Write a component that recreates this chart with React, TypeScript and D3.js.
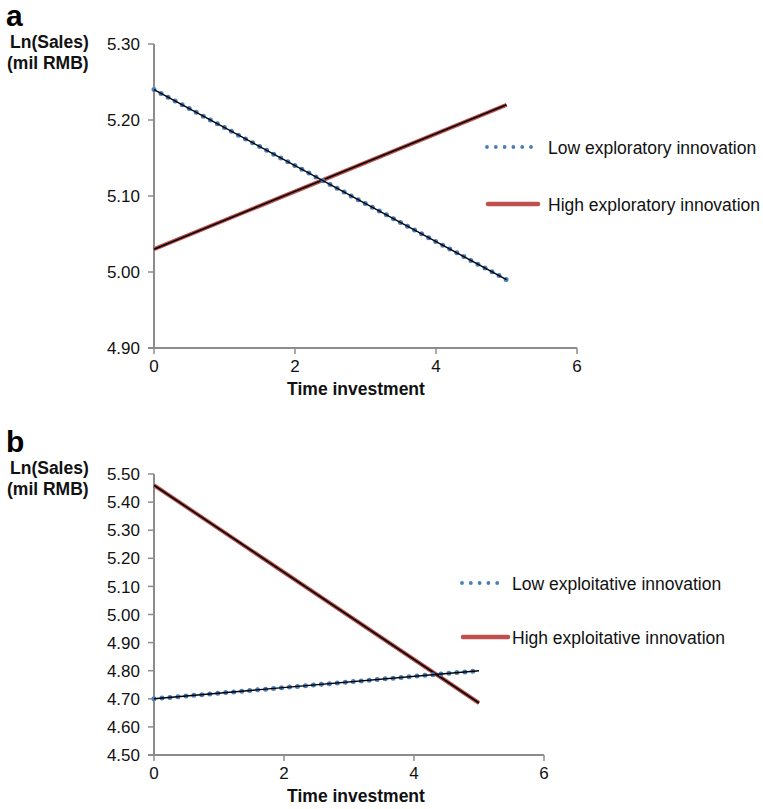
import React, { useEffect, useRef } from 'react';
import * as d3 from 'd3';

// Data
const timePoints = [0, 5];
const xTicks = [0, 2, 4, 6];

const lowExploratory = [5.24, 4.99];
const highExploratory = [5.03, 5.22];
const yTicksA = [4.9, 5.0, 5.1, 5.2, 5.3];

const lowExploitative = [4.7, 4.8];
const highExploitative = [5.46, 4.685];
const yTicksB = [4.5, 4.6, 4.7, 4.8, 4.9, 5.0, 5.1, 5.2, 5.3, 5.4, 5.5];

const legendA = ['Low exploratory innovation', 'High exploratory innovation'];
const legendB = ['Low exploitative innovation', 'High exploitative innovation'];

const FONT = '"Liberation Sans", Arial, Helvetica, sans-serif';
const AXIS = '#8c8c8c';
const BLUE = '#4a7ebb';
const RED = '#c0504d';

type Panel = {
  letter: string;
  top: number;
  x0: number; x1: number;
  yTop: number; yBottom: number;
  yDomain: [number, number];
  yTicks: number[];
  low: number[];
  high: number[];
  legend: string[];
  legendX: number; legendW: number; textX: number; legendY: [number, number];
};

const panels: Panel[] = [
  {
    letter: 'a', top: 0, x0: 154, x1: 577, yTop: 44, yBottom: 348,
    yDomain: [4.9, 5.3], yTicks: yTicksA, low: lowExploratory, high: highExploratory,
    legend: legendA, legendX: 487, legendW: 51, textX: 548, legendY: [147, 204],
  },
  {
    letter: 'b', top: 426, x0: 154, x1: 544, yTop: 474, yBottom: 755,
    yDomain: [4.5, 5.5], yTicks: yTicksB, low: lowExploitative, high: highExploitative,
    legend: legendB, legendX: 462, legendW: 46, textX: 512, legendY: [583, 637],
  },
];

function txt(g: d3.Selection<SVGGElement, unknown, null, undefined>, size: number, bold = false) {
  return g.append('text')
    .attr('font-family', FONT)
    .attr('font-size', size)
    .attr('font-weight', bold ? 'bold' : 'normal')
    .attr('fill', '#111');
}

export default function App() {
  const ref = useRef<SVGSVGElement>(null);

  useEffect(() => {
    const svg = d3.select(ref.current);
    svg.selectAll('*').remove();

    panels.forEach((p) => {
      const g = svg.append('g');
      const x = d3.scaleLinear().domain([0, 6]).range([p.x0, p.x1]);
      const y = d3.scaleLinear().domain(p.yDomain).range([p.yBottom, p.yTop]);

      // panel letter and y label
      txt(g, 30, true).attr('x', 6).attr('y', p.top + 26).attr('fill', '#000').text(p.letter);
      const lab = txt(g, 17.5, true);
      lab.append('tspan').attr('x', 10).attr('y', p.top + 48).text('Ln(Sales)');
      lab.append('tspan').attr('x', 7).attr('y', p.top + 69).text('(mil RMB)');

      // y axis
      g.append('line').attr('x1', x(0)).attr('x2', x(0))
        .attr('y1', y(p.yDomain[1])).attr('y2', y(p.yDomain[0]))
        .attr('stroke', AXIS).attr('stroke-width', 2);
      p.yTicks.forEach((t) => {
        g.append('line').attr('x1', x(0) - 6).attr('x2', x(0))
          .attr('y1', y(t)).attr('y2', y(t)).attr('stroke', AXIS).attr('stroke-width', 1.5);
        txt(g, 17).attr('x', 140).attr('y', y(t)).attr('dy', '0.36em')
          .attr('text-anchor', 'end').text(d3.format('.2f')(t));
      });

      // x axis
      g.append('line').attr('x1', x(0) - 6).attr('x2', x(6))
        .attr('y1', y(p.yDomain[0])).attr('y2', y(p.yDomain[0]))
        .attr('stroke', AXIS).attr('stroke-width', 2);
      xTicks.forEach((t) => {
        g.append('line').attr('x1', x(t)).attr('x2', x(t))
          .attr('y1', y(p.yDomain[0])).attr('y2', y(p.yDomain[0]) + 6)
          .attr('stroke', AXIS).attr('stroke-width', 1.5);
        txt(g, 17).attr('x', x(t)).attr('y', y(p.yDomain[0]) + 24)
          .attr('text-anchor', 'middle').text(String(t));
      });
      txt(g, 17.5, true).attr('x', 356).attr('y', y(p.yDomain[0]) + 47)
        .attr('text-anchor', 'middle').text('Time investment');

      const line = d3.line<number>().x((_, i) => x(timePoints[i])).y((d) => y(d));

      // high series: red with black core
      g.append('path').attr('d', line(p.high)).attr('fill', 'none')
        .attr('stroke', RED).attr('stroke-width', 4);
      g.append('path').attr('d', line(p.high)).attr('fill', 'none')
        .attr('stroke', '#000').attr('stroke-width', 1.6);

      // low series: blue dots with black core
      g.append('path').attr('d', line(p.low)).attr('fill', 'none')
        .attr('stroke', BLUE).attr('stroke-width', 5)
        .attr('stroke-linecap', 'round').attr('stroke-dasharray', '0 8');
      g.append('path').attr('d', line(p.low)).attr('fill', 'none')
        .attr('stroke', '#000').attr('stroke-width', 1.4);

      // legend
      g.append('line').attr('x1', p.legendX).attr('x2', p.legendX + 44)
        .attr('y1', p.legendY[0]).attr('y2', p.legendY[0])
        .attr('stroke', BLUE).attr('stroke-width', 3.8)
        .attr('stroke-linecap', 'round').attr('stroke-dasharray', '0 8.8');
      g.append('line').attr('x1', p.legendX + 1).attr('x2', p.legendX + p.legendW)
        .attr('y1', p.legendY[1]).attr('y2', p.legendY[1])
        .attr('stroke', RED).attr('stroke-width', 4.5).attr('stroke-linecap', 'round');
      p.legend.forEach((name, i) => {
        txt(g, 17.5).attr('x', p.textX).attr('y', p.legendY[i] + 1).attr('dy', '0.35em').text(name);
      });
    });
  }, []);

  return (
    <div style={{ position: 'absolute', left: 0, top: 0 }}>
      <svg ref={ref} width={763} height={809} style={{ display: 'block', background: '#fff' }} />
    </div>
  );
}
